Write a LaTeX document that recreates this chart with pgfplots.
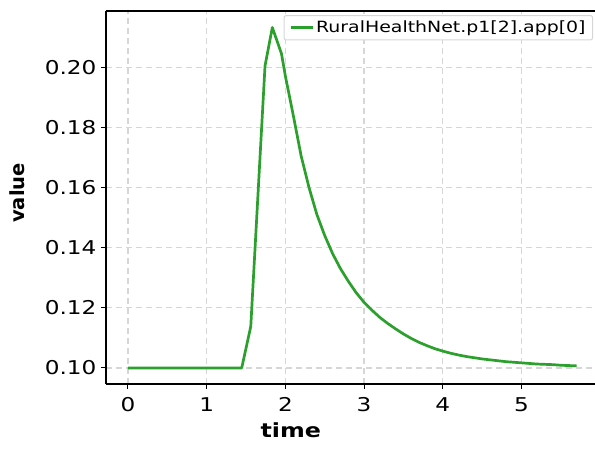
\documentclass[border=0pt]{standalone}
\usepackage{pgfplots}
\pgfplotsset{compat=1.18}
\usepackage{fontspec}
\setmainfont{DejaVu Sans}[FakeStretch=1.22]
\newfontfamily\plainfont{DejaVu Sans}
\definecolor{lgreen}{RGB}{44,160,44}
\definecolor{gridgray}{RGB}{214,214,214}
\begin{document}
\begin{tikzpicture}
\useasboundingbox (-106pt,-65pt) rectangle (489pt,384pt);
\begin{axis}[
  at={(0,0)}, anchor=south west,
  scale only axis, width=489pt, height=373pt,
  xmin=-0.2795, xmax=5.934,
  ymin=0.09467, ymax=0.21867,
  axis x line*=bottom, axis y line*=left,
  axis line style={line width=1.3pt, black, -},
  tick align=outside,
  major tick length=5pt,
  tick style={black, line width=1pt},
  xtick={0,1,2,3,4,5},
  ytick={0.10,0.12,0.14,0.16,0.18,0.20},
  grid=major,
  major grid style={gridgray, line width=1.2pt, dash pattern=on 6pt off 4pt},
  /pgf/number format/assume math mode=true,
  yticklabel style={/pgf/number format/fixed, /pgf/number format/fixed zerofill, /pgf/number format/precision=2, font=\fontsize{19}{22}\selectfont, xshift=-1pt},
  xticklabel style={font=\fontsize{19}{22}\selectfont, yshift=-5pt},
  xlabel={\bfseries time},
  ylabel={\plainfont\bfseries value},
  x label style={at={(axis description cs:0.378,-0.1247)}, anchor=center, font=\fontsize{19.5}{22}\selectfont},
  y label style={at={(axis description cs:-0.181,0.512)}, anchor=center, font=\fontsize{19.5}{22}\selectfont},
  legend style={at={(axis description cs:0.996,0.989)}, anchor=north east,
    draw=gridgray, line width=1pt, rounded corners=2pt,
    font=\fontsize{15.5}{18}\selectfont, inner xsep=5pt, inner ysep=3.5pt},
  legend image code/.code={\draw[#1, line width=3pt] (0pt,0pt) -- (22pt,0pt);},
  legend cell align=left,
]
\addplot[lgreen, line width=2.7pt, line join=round] table {
t v
0 0.1
1.445 0.1
1.56 0.1138
1.741 0.2004
1.834 0.2132
1.95 0.2045
2.0 0.1970
2.1 0.1840
2.2 0.1705
2.3 0.1600
2.4 0.1510
2.5 0.1440
2.6 0.1380
2.7 0.1330
2.8 0.1288
2.9 0.1250
3.0 0.1218
3.1 0.1192
3.2 0.1168
3.3 0.1148
3.4 0.1130
3.5 0.1113
3.6 0.1098
3.7 0.1085
3.8 0.1074
3.9 0.1064
4.0 0.1056
4.1 0.1049
4.2 0.1043
4.3 0.1038
4.4 0.1034
4.5 0.1030
4.6 0.1027
4.7 0.1024
4.8 0.1021
4.9 0.1019
5.0 0.1017
5.1 0.1015
5.2 0.1013
5.3 0.1012
5.4 0.1011
5.5 0.1009
5.6 0.1008
5.7 0.1007
};
\addlegendentry{RuralHealthNet.p1[2].app[0]}
\draw[black, line width=1.3pt] (rel axis cs:0,1) -- (rel axis cs:1,1);
\end{axis}
\end{tikzpicture}
\end{document}
